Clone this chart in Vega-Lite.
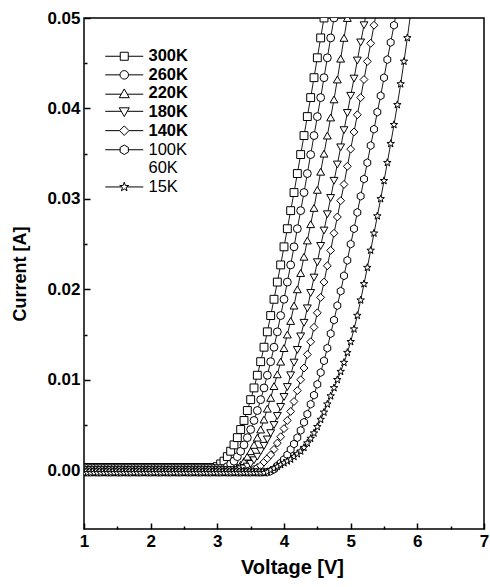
{
"$schema": "https://vega.github.io/schema/vega-lite/v6.json",
"width": 400, "height": 511,
"autosize": {"type": "none"},
"padding": {"left": 84, "top": 18, "right": 6, "bottom": 58},
"background": "white",
"config": {
 "view": {"stroke": "black", "strokeWidth": 1.5},
 "axis": {"domain": false, "grid": false, "labelFont": "Liberation Sans", "labelFontWeight": "bold", "labelFontSize": 17, "labelColor": "black", "titleFont": "Liberation Sans", "titleFontWeight": "bold", "titleColor": "black", "tickColor": "black", "tickWidth": 1.5},
 "legend": {"labelFont": "Liberation Sans", "labelFontSize": 16.5, "labelColor": "black", "symbolStrokeColor": "black", "symbolStrokeWidth": 1, "padding": 0, "rowPadding": 1.6, "labelOffset": 16, "symbolSize": 100}
},
"data": {"values": [
{"t":"300K","v":1.00,"i":0.0003},{"t":"300K","v":1.05,"i":0.0003},{"t":"300K","v":1.10,"i":0.0003},{"t":"300K","v":1.15,"i":0.0003},{"t":"300K","v":1.20,"i":0.0003},{"t":"300K","v":1.25,"i":0.0003},{"t":"300K","v":1.30,"i":0.0003},{"t":"300K","v":1.35,"i":0.0003},{"t":"300K","v":1.40,"i":0.0003},{"t":"300K","v":1.45,"i":0.0003},{"t":"300K","v":1.50,"i":0.0003},{"t":"300K","v":1.55,"i":0.0003},{"t":"300K","v":1.60,"i":0.0003},{"t":"300K","v":1.65,"i":0.0003},{"t":"300K","v":1.70,"i":0.0003},{"t":"300K","v":1.75,"i":0.0003},{"t":"300K","v":1.80,"i":0.0003},{"t":"300K","v":1.85,"i":0.0003},{"t":"300K","v":1.90,"i":0.0003},{"t":"300K","v":1.95,"i":0.0003},{"t":"300K","v":2.00,"i":0.0003},{"t":"300K","v":2.05,"i":0.0003},{"t":"300K","v":2.10,"i":0.0003},{"t":"300K","v":2.15,"i":0.0003},{"t":"300K","v":2.20,"i":0.0003},{"t":"300K","v":2.25,"i":0.0003},{"t":"300K","v":2.30,"i":0.0003},{"t":"300K","v":2.35,"i":0.0003},{"t":"300K","v":2.40,"i":0.0003},{"t":"300K","v":2.45,"i":0.0003},{"t":"300K","v":2.50,"i":0.0003},{"t":"300K","v":2.55,"i":0.0003},{"t":"300K","v":2.60,"i":0.0003},{"t":"300K","v":2.65,"i":0.0003},{"t":"300K","v":2.70,"i":0.0003},{"t":"300K","v":2.75,"i":0.0003},{"t":"300K","v":2.80,"i":0.0003},{"t":"300K","v":2.85,"i":0.0003},{"t":"300K","v":2.90,"i":0.0003},{"t":"300K","v":2.95,"i":0.0003},
{"t":"300K","v":3.00,"i":0.0004},{"t":"300K","v":3.05,"i":0.0007},{"t":"300K","v":3.10,"i":0.0010},{"t":"300K","v":3.15,"i":0.0015},{"t":"300K","v":3.20,"i":0.0021},{"t":"300K","v":3.25,"i":0.0028},{"t":"300K","v":3.30,"i":0.0036},{"t":"300K","v":3.35,"i":0.0045},{"t":"300K","v":3.40,"i":0.0055},{"t":"300K","v":3.45,"i":0.0066},{"t":"300K","v":3.50,"i":0.0078},{"t":"300K","v":3.55,"i":0.0091},{"t":"300K","v":3.60,"i":0.0105},{"t":"300K","v":3.65,"i":0.0120},{"t":"300K","v":3.70,"i":0.0136},{"t":"300K","v":3.75,"i":0.0153},{"t":"300K","v":3.80,"i":0.0171},{"t":"300K","v":3.85,"i":0.0189},{"t":"300K","v":3.90,"i":0.0208},{"t":"300K","v":3.95,"i":0.0227},{"t":"300K","v":4.00,"i":0.0247},{"t":"300K","v":4.05,"i":0.0267},{"t":"300K","v":4.10,"i":0.0287},{"t":"300K","v":4.15,"i":0.0307},{"t":"300K","v":4.20,"i":0.0328},{"t":"300K","v":4.25,"i":0.0349},{"t":"300K","v":4.30,"i":0.0370},{"t":"300K","v":4.35,"i":0.0391},{"t":"300K","v":4.40,"i":0.0412},{"t":"300K","v":4.45,"i":0.0434},{"t":"300K","v":4.50,"i":0.0456},{"t":"300K","v":4.55,"i":0.0478},{"t":"300K","v":4.60,"i":0.0500},{"t":"300K","v":4.65,"i":0.0522},
{"t":"260K","v":1.00,"i":0.0002},{"t":"260K","v":1.05,"i":0.0002},{"t":"260K","v":1.10,"i":0.0002},{"t":"260K","v":1.15,"i":0.0002},{"t":"260K","v":1.20,"i":0.0002},{"t":"260K","v":1.25,"i":0.0002},{"t":"260K","v":1.30,"i":0.0002},{"t":"260K","v":1.35,"i":0.0002},{"t":"260K","v":1.40,"i":0.0002},{"t":"260K","v":1.45,"i":0.0002},{"t":"260K","v":1.50,"i":0.0002},{"t":"260K","v":1.55,"i":0.0002},{"t":"260K","v":1.60,"i":0.0002},{"t":"260K","v":1.65,"i":0.0002},{"t":"260K","v":1.70,"i":0.0002},{"t":"260K","v":1.75,"i":0.0002},{"t":"260K","v":1.80,"i":0.0002},{"t":"260K","v":1.85,"i":0.0002},{"t":"260K","v":1.90,"i":0.0002},{"t":"260K","v":1.95,"i":0.0002},{"t":"260K","v":2.00,"i":0.0002},{"t":"260K","v":2.05,"i":0.0002},{"t":"260K","v":2.10,"i":0.0002},{"t":"260K","v":2.15,"i":0.0002},{"t":"260K","v":2.20,"i":0.0002},{"t":"260K","v":2.25,"i":0.0002},{"t":"260K","v":2.30,"i":0.0002},{"t":"260K","v":2.35,"i":0.0002},{"t":"260K","v":2.40,"i":0.0002},{"t":"260K","v":2.45,"i":0.0002},{"t":"260K","v":2.50,"i":0.0002},{"t":"260K","v":2.55,"i":0.0002},{"t":"260K","v":2.60,"i":0.0002},{"t":"260K","v":2.65,"i":0.0002},{"t":"260K","v":2.70,"i":0.0002},{"t":"260K","v":2.75,"i":0.0002},{"t":"260K","v":2.80,"i":0.0002},{"t":"260K","v":2.85,"i":0.0002},{"t":"260K","v":2.90,"i":0.0002},{"t":"260K","v":2.95,"i":0.0002},{"t":"260K","v":3.00,"i":0.0002},{"t":"260K","v":3.05,"i":0.0002},{"t":"260K","v":3.10,"i":0.0002},
{"t":"260K","v":3.15,"i":0.0004},{"t":"260K","v":3.20,"i":0.0007},{"t":"260K","v":3.25,"i":0.0010},{"t":"260K","v":3.30,"i":0.0015},{"t":"260K","v":3.35,"i":0.0021},{"t":"260K","v":3.40,"i":0.0028},{"t":"260K","v":3.45,"i":0.0036},{"t":"260K","v":3.50,"i":0.0045},{"t":"260K","v":3.55,"i":0.0055},{"t":"260K","v":3.60,"i":0.0066},{"t":"260K","v":3.65,"i":0.0078},{"t":"260K","v":3.70,"i":0.0091},{"t":"260K","v":3.75,"i":0.0105},{"t":"260K","v":3.80,"i":0.0120},{"t":"260K","v":3.85,"i":0.0136},{"t":"260K","v":3.90,"i":0.0153},{"t":"260K","v":3.95,"i":0.0171},{"t":"260K","v":4.00,"i":0.0189},{"t":"260K","v":4.05,"i":0.0208},{"t":"260K","v":4.10,"i":0.0227},{"t":"260K","v":4.15,"i":0.0247},{"t":"260K","v":4.20,"i":0.0267},{"t":"260K","v":4.25,"i":0.0287},{"t":"260K","v":4.30,"i":0.0307},{"t":"260K","v":4.35,"i":0.0328},{"t":"260K","v":4.40,"i":0.0349},{"t":"260K","v":4.45,"i":0.0370},{"t":"260K","v":4.50,"i":0.0391},{"t":"260K","v":4.55,"i":0.0412},{"t":"260K","v":4.60,"i":0.0434},{"t":"260K","v":4.65,"i":0.0456},{"t":"260K","v":4.70,"i":0.0478},{"t":"260K","v":4.75,"i":0.0500},{"t":"260K","v":4.80,"i":0.0522},
{"t":"220K","v":1.00,"i":0.0001},{"t":"220K","v":1.05,"i":0.0001},{"t":"220K","v":1.10,"i":0.0001},{"t":"220K","v":1.15,"i":0.0001},{"t":"220K","v":1.20,"i":0.0001},{"t":"220K","v":1.25,"i":0.0001},{"t":"220K","v":1.30,"i":0.0001},{"t":"220K","v":1.35,"i":0.0001},{"t":"220K","v":1.40,"i":0.0001},{"t":"220K","v":1.45,"i":0.0001},{"t":"220K","v":1.50,"i":0.0001},{"t":"220K","v":1.55,"i":0.0001},{"t":"220K","v":1.60,"i":0.0001},{"t":"220K","v":1.65,"i":0.0001},{"t":"220K","v":1.70,"i":0.0001},{"t":"220K","v":1.75,"i":0.0001},{"t":"220K","v":1.80,"i":0.0001},{"t":"220K","v":1.85,"i":0.0001},{"t":"220K","v":1.90,"i":0.0001},{"t":"220K","v":1.95,"i":0.0001},{"t":"220K","v":2.00,"i":0.0001},{"t":"220K","v":2.05,"i":0.0001},{"t":"220K","v":2.10,"i":0.0001},{"t":"220K","v":2.15,"i":0.0001},{"t":"220K","v":2.20,"i":0.0001},{"t":"220K","v":2.25,"i":0.0001},{"t":"220K","v":2.30,"i":0.0001},{"t":"220K","v":2.35,"i":0.0001},{"t":"220K","v":2.40,"i":0.0001},{"t":"220K","v":2.45,"i":0.0001},{"t":"220K","v":2.50,"i":0.0001},{"t":"220K","v":2.55,"i":0.0001},{"t":"220K","v":2.60,"i":0.0001},{"t":"220K","v":2.65,"i":0.0001},{"t":"220K","v":2.70,"i":0.0001},{"t":"220K","v":2.75,"i":0.0001},{"t":"220K","v":2.80,"i":0.0001},{"t":"220K","v":2.85,"i":0.0001},{"t":"220K","v":2.90,"i":0.0001},{"t":"220K","v":2.95,"i":0.0001},{"t":"220K","v":3.00,"i":0.0001},{"t":"220K","v":3.05,"i":0.0001},{"t":"220K","v":3.10,"i":0.0001},{"t":"220K","v":3.15,"i":0.0001},{"t":"220K","v":3.20,"i":0.0001},{"t":"220K","v":3.25,"i":0.0001},
{"t":"220K","v":3.30,"i":0.0003},{"t":"220K","v":3.35,"i":0.0006},{"t":"220K","v":3.40,"i":0.0010},{"t":"220K","v":3.45,"i":0.0015},{"t":"220K","v":3.50,"i":0.0021},{"t":"220K","v":3.55,"i":0.0028},{"t":"220K","v":3.60,"i":0.0036},{"t":"220K","v":3.65,"i":0.0045},{"t":"220K","v":3.70,"i":0.0056},{"t":"220K","v":3.75,"i":0.0068},{"t":"220K","v":3.80,"i":0.0080},{"t":"220K","v":3.85,"i":0.0093},{"t":"220K","v":3.90,"i":0.0106},{"t":"220K","v":3.95,"i":0.0120},{"t":"220K","v":4.00,"i":0.0135},{"t":"220K","v":4.05,"i":0.0150},{"t":"220K","v":4.10,"i":0.0165},{"t":"220K","v":4.15,"i":0.0182},{"t":"220K","v":4.20,"i":0.0200},{"t":"220K","v":4.25,"i":0.0218},{"t":"220K","v":4.30,"i":0.0236},{"t":"220K","v":4.35,"i":0.0254},{"t":"220K","v":4.40,"i":0.0272},{"t":"220K","v":4.45,"i":0.0290},{"t":"220K","v":4.50,"i":0.0310},{"t":"220K","v":4.55,"i":0.0330},{"t":"220K","v":4.60,"i":0.0350},{"t":"220K","v":4.65,"i":0.0370},{"t":"220K","v":4.70,"i":0.0390},{"t":"220K","v":4.75,"i":0.0410},{"t":"220K","v":4.80,"i":0.0432},{"t":"220K","v":4.85,"i":0.0455},{"t":"220K","v":4.90,"i":0.0478},{"t":"220K","v":4.95,"i":0.0500},{"t":"220K","v":5.00,"i":0.0522},
{"t":"180K","v":1.00,"i":0},{"t":"180K","v":1.05,"i":0},{"t":"180K","v":1.10,"i":0},{"t":"180K","v":1.15,"i":0},{"t":"180K","v":1.20,"i":0},{"t":"180K","v":1.25,"i":0},{"t":"180K","v":1.30,"i":0},{"t":"180K","v":1.35,"i":0},{"t":"180K","v":1.40,"i":0},{"t":"180K","v":1.45,"i":0},{"t":"180K","v":1.50,"i":0},{"t":"180K","v":1.55,"i":0},{"t":"180K","v":1.60,"i":0},{"t":"180K","v":1.65,"i":0},{"t":"180K","v":1.70,"i":0},{"t":"180K","v":1.75,"i":0},{"t":"180K","v":1.80,"i":0},{"t":"180K","v":1.85,"i":0},{"t":"180K","v":1.90,"i":0},{"t":"180K","v":1.95,"i":0},{"t":"180K","v":2.00,"i":0},{"t":"180K","v":2.05,"i":0},{"t":"180K","v":2.10,"i":0},{"t":"180K","v":2.15,"i":0},{"t":"180K","v":2.20,"i":0},{"t":"180K","v":2.25,"i":0},{"t":"180K","v":2.30,"i":0},{"t":"180K","v":2.35,"i":0},{"t":"180K","v":2.40,"i":0},{"t":"180K","v":2.45,"i":0},{"t":"180K","v":2.50,"i":0},{"t":"180K","v":2.55,"i":0},{"t":"180K","v":2.60,"i":0},{"t":"180K","v":2.65,"i":0},{"t":"180K","v":2.70,"i":0},{"t":"180K","v":2.75,"i":0},{"t":"180K","v":2.80,"i":0},{"t":"180K","v":2.85,"i":0},{"t":"180K","v":2.90,"i":0},{"t":"180K","v":2.95,"i":0},{"t":"180K","v":3.00,"i":0},{"t":"180K","v":3.05,"i":0},{"t":"180K","v":3.10,"i":0},{"t":"180K","v":3.15,"i":0},{"t":"180K","v":3.20,"i":0},{"t":"180K","v":3.25,"i":0},{"t":"180K","v":3.30,"i":0},
{"t":"180K","v":3.35,"i":0.0001},{"t":"180K","v":3.40,"i":0.0002},{"t":"180K","v":3.45,"i":0.0004},{"t":"180K","v":3.50,"i":0.0007},{"t":"180K","v":3.55,"i":0.0011},{"t":"180K","v":3.60,"i":0.0015},{"t":"180K","v":3.65,"i":0.0021},{"t":"180K","v":3.70,"i":0.0027},{"t":"180K","v":3.75,"i":0.0034},{"t":"180K","v":3.80,"i":0.0041},{"t":"180K","v":3.85,"i":0.0050},{"t":"180K","v":3.90,"i":0.0060},{"t":"180K","v":3.95,"i":0.0070},{"t":"180K","v":4.00,"i":0.0081},{"t":"180K","v":4.05,"i":0.0092},{"t":"180K","v":4.10,"i":0.0105},{"t":"180K","v":4.15,"i":0.0119},{"t":"180K","v":4.20,"i":0.0133},{"t":"180K","v":4.25,"i":0.0148},{"t":"180K","v":4.30,"i":0.0163},{"t":"180K","v":4.35,"i":0.0179},{"t":"180K","v":4.40,"i":0.0196},{"t":"180K","v":4.45,"i":0.0213},{"t":"180K","v":4.50,"i":0.0230},{"t":"180K","v":4.55,"i":0.0248},{"t":"180K","v":4.60,"i":0.0265},{"t":"180K","v":4.65,"i":0.0283},{"t":"180K","v":4.70,"i":0.0301},{"t":"180K","v":4.75,"i":0.0320},{"t":"180K","v":4.80,"i":0.0338},{"t":"180K","v":4.85,"i":0.0357},{"t":"180K","v":4.90,"i":0.0376},{"t":"180K","v":4.95,"i":0.0395},{"t":"180K","v":5.00,"i":0.0414},{"t":"180K","v":5.05,"i":0.0433},{"t":"180K","v":5.10,"i":0.0453},{"t":"180K","v":5.15,"i":0.0473},{"t":"180K","v":5.20,"i":0.0492},{"t":"180K","v":5.25,"i":0.0512},
{"t":"140K","v":1.00,"i":-0.0001},{"t":"140K","v":1.05,"i":-0.0001},{"t":"140K","v":1.10,"i":-0.0001},{"t":"140K","v":1.15,"i":-0.0001},{"t":"140K","v":1.20,"i":-0.0001},{"t":"140K","v":1.25,"i":-0.0001},{"t":"140K","v":1.30,"i":-0.0001},{"t":"140K","v":1.35,"i":-0.0001},{"t":"140K","v":1.40,"i":-0.0001},{"t":"140K","v":1.45,"i":-0.0001},{"t":"140K","v":1.50,"i":-0.0001},{"t":"140K","v":1.55,"i":-0.0001},{"t":"140K","v":1.60,"i":-0.0001},{"t":"140K","v":1.65,"i":-0.0001},{"t":"140K","v":1.70,"i":-0.0001},{"t":"140K","v":1.75,"i":-0.0001},{"t":"140K","v":1.80,"i":-0.0001},{"t":"140K","v":1.85,"i":-0.0001},{"t":"140K","v":1.90,"i":-0.0001},{"t":"140K","v":1.95,"i":-0.0001},{"t":"140K","v":2.00,"i":-0.0001},{"t":"140K","v":2.05,"i":-0.0001},{"t":"140K","v":2.10,"i":-0.0001},{"t":"140K","v":2.15,"i":-0.0001},{"t":"140K","v":2.20,"i":-0.0001},{"t":"140K","v":2.25,"i":-0.0001},{"t":"140K","v":2.30,"i":-0.0001},{"t":"140K","v":2.35,"i":-0.0001},{"t":"140K","v":2.40,"i":-0.0001},{"t":"140K","v":2.45,"i":-0.0001},{"t":"140K","v":2.50,"i":-0.0001},{"t":"140K","v":2.55,"i":-0.0001},{"t":"140K","v":2.60,"i":-0.0001},{"t":"140K","v":2.65,"i":-0.0001},{"t":"140K","v":2.70,"i":-0.0001},{"t":"140K","v":2.75,"i":-0.0001},{"t":"140K","v":2.80,"i":-0.0001},{"t":"140K","v":2.85,"i":-0.0001},{"t":"140K","v":2.90,"i":-0.0001},{"t":"140K","v":2.95,"i":-0.0001},{"t":"140K","v":3.00,"i":-0.0001},{"t":"140K","v":3.05,"i":-0.0001},{"t":"140K","v":3.10,"i":-0.0001},{"t":"140K","v":3.15,"i":-0.0001},{"t":"140K","v":3.20,"i":-0.0001},{"t":"140K","v":3.25,"i":-0.0001},{"t":"140K","v":3.30,"i":-0.0001},{"t":"140K","v":3.35,"i":-0.0001},{"t":"140K","v":3.40,"i":-0.0001},{"t":"140K","v":3.45,"i":-0.0001},{"t":"140K","v":3.50,"i":-0.0001},
{"t":"140K","v":3.55,"i":0.0001},{"t":"140K","v":3.60,"i":0.0003},{"t":"140K","v":3.65,"i":0.0005},{"t":"140K","v":3.70,"i":0.0009},{"t":"140K","v":3.75,"i":0.0013},{"t":"140K","v":3.80,"i":0.0017},{"t":"140K","v":3.85,"i":0.0023},{"t":"140K","v":3.90,"i":0.0030},{"t":"140K","v":3.95,"i":0.0037},{"t":"140K","v":4.00,"i":0.0046},{"t":"140K","v":4.05,"i":0.0055},{"t":"140K","v":4.10,"i":0.0065},{"t":"140K","v":4.15,"i":0.0076},{"t":"140K","v":4.20,"i":0.0088},{"t":"140K","v":4.25,"i":0.0100},{"t":"140K","v":4.30,"i":0.0113},{"t":"140K","v":4.35,"i":0.0128},{"t":"140K","v":4.40,"i":0.0142},{"t":"140K","v":4.45,"i":0.0158},{"t":"140K","v":4.50,"i":0.0174},{"t":"140K","v":4.55,"i":0.0191},{"t":"140K","v":4.60,"i":0.0208},{"t":"140K","v":4.65,"i":0.0226},{"t":"140K","v":4.70,"i":0.0243},{"t":"140K","v":4.75,"i":0.0262},{"t":"140K","v":4.80,"i":0.0280},{"t":"140K","v":4.85,"i":0.0298},{"t":"140K","v":4.90,"i":0.0316},{"t":"140K","v":4.95,"i":0.0336},{"t":"140K","v":5.00,"i":0.0355},{"t":"140K","v":5.05,"i":0.0374},{"t":"140K","v":5.10,"i":0.0393},{"t":"140K","v":5.15,"i":0.0412},{"t":"140K","v":5.20,"i":0.0432},{"t":"140K","v":5.25,"i":0.0452},{"t":"140K","v":5.30,"i":0.0472},{"t":"140K","v":5.35,"i":0.0492},{"t":"140K","v":5.40,"i":0.0512},
{"t":"100K","v":1.00,"i":-0.0002},{"t":"100K","v":1.05,"i":-0.0002},{"t":"100K","v":1.10,"i":-0.0002},{"t":"100K","v":1.15,"i":-0.0002},{"t":"100K","v":1.20,"i":-0.0002},{"t":"100K","v":1.25,"i":-0.0002},{"t":"100K","v":1.30,"i":-0.0002},{"t":"100K","v":1.35,"i":-0.0002},{"t":"100K","v":1.40,"i":-0.0002},{"t":"100K","v":1.45,"i":-0.0002},{"t":"100K","v":1.50,"i":-0.0002},{"t":"100K","v":1.55,"i":-0.0002},{"t":"100K","v":1.60,"i":-0.0002},{"t":"100K","v":1.65,"i":-0.0002},{"t":"100K","v":1.70,"i":-0.0002},{"t":"100K","v":1.75,"i":-0.0002},{"t":"100K","v":1.80,"i":-0.0002},{"t":"100K","v":1.85,"i":-0.0002},{"t":"100K","v":1.90,"i":-0.0002},{"t":"100K","v":1.95,"i":-0.0002},{"t":"100K","v":2.00,"i":-0.0002},{"t":"100K","v":2.05,"i":-0.0002},{"t":"100K","v":2.10,"i":-0.0002},{"t":"100K","v":2.15,"i":-0.0002},{"t":"100K","v":2.20,"i":-0.0002},{"t":"100K","v":2.25,"i":-0.0002},{"t":"100K","v":2.30,"i":-0.0002},{"t":"100K","v":2.35,"i":-0.0002},{"t":"100K","v":2.40,"i":-0.0002},{"t":"100K","v":2.45,"i":-0.0002},{"t":"100K","v":2.50,"i":-0.0002},{"t":"100K","v":2.55,"i":-0.0002},{"t":"100K","v":2.60,"i":-0.0002},{"t":"100K","v":2.65,"i":-0.0002},{"t":"100K","v":2.70,"i":-0.0002},{"t":"100K","v":2.75,"i":-0.0002},{"t":"100K","v":2.80,"i":-0.0002},{"t":"100K","v":2.85,"i":-0.0002},{"t":"100K","v":2.90,"i":-0.0002},{"t":"100K","v":2.95,"i":-0.0002},{"t":"100K","v":3.00,"i":-0.0002},{"t":"100K","v":3.05,"i":-0.0002},{"t":"100K","v":3.10,"i":-0.0002},{"t":"100K","v":3.15,"i":-0.0002},{"t":"100K","v":3.20,"i":-0.0002},{"t":"100K","v":3.25,"i":-0.0002},{"t":"100K","v":3.30,"i":-0.0002},{"t":"100K","v":3.35,"i":-0.0002},{"t":"100K","v":3.40,"i":-0.0002},{"t":"100K","v":3.45,"i":-0.0002},{"t":"100K","v":3.50,"i":-0.0002},{"t":"100K","v":3.55,"i":-0.0002},{"t":"100K","v":3.60,"i":-0.0002},{"t":"100K","v":3.65,"i":-0.0002},{"t":"100K","v":3.70,"i":-0.0002},{"t":"100K","v":3.75,"i":-0.0002},
{"t":"100K","v":3.80,"i":-0.0001},{"t":"100K","v":3.85,"i":0.0001},{"t":"100K","v":3.90,"i":0.0005},{"t":"100K","v":3.95,"i":0.0008},{"t":"100K","v":4.00,"i":0.0012},{"t":"100K","v":4.05,"i":0.0017},{"t":"100K","v":4.10,"i":0.0023},{"t":"100K","v":4.15,"i":0.0029},{"t":"100K","v":4.20,"i":0.0036},{"t":"100K","v":4.25,"i":0.0044},{"t":"100K","v":4.30,"i":0.0053},{"t":"100K","v":4.35,"i":0.0062},{"t":"100K","v":4.40,"i":0.0073},{"t":"100K","v":4.45,"i":0.0083},{"t":"100K","v":4.50,"i":0.0095},{"t":"100K","v":4.55,"i":0.0108},{"t":"100K","v":4.60,"i":0.0121},{"t":"100K","v":4.65,"i":0.0135},{"t":"100K","v":4.70,"i":0.0151},{"t":"100K","v":4.75,"i":0.0166},{"t":"100K","v":4.80,"i":0.0182},{"t":"100K","v":4.85,"i":0.0198},{"t":"100K","v":4.90,"i":0.0215},{"t":"100K","v":4.95,"i":0.0232},{"t":"100K","v":5.00,"i":0.0250},{"t":"100K","v":5.05,"i":0.0267},{"t":"100K","v":5.10,"i":0.0285},{"t":"100K","v":5.15,"i":0.0303},{"t":"100K","v":5.20,"i":0.0322},{"t":"100K","v":5.25,"i":0.0340},{"t":"100K","v":5.30,"i":0.0359},{"t":"100K","v":5.35,"i":0.0377},{"t":"100K","v":5.40,"i":0.0396},{"t":"100K","v":5.45,"i":0.0414},{"t":"100K","v":5.50,"i":0.0434},{"t":"100K","v":5.55,"i":0.0454},{"t":"100K","v":5.60,"i":0.0473},{"t":"100K","v":5.65,"i":0.0492},{"t":"100K","v":5.70,"i":0.0512},
{"t":"15K","v":1.00,"i":-0.0003},{"t":"15K","v":1.05,"i":-0.0003},{"t":"15K","v":1.10,"i":-0.0003},{"t":"15K","v":1.15,"i":-0.0003},{"t":"15K","v":1.20,"i":-0.0003},{"t":"15K","v":1.25,"i":-0.0003},{"t":"15K","v":1.30,"i":-0.0003},{"t":"15K","v":1.35,"i":-0.0003},{"t":"15K","v":1.40,"i":-0.0003},{"t":"15K","v":1.45,"i":-0.0003},{"t":"15K","v":1.50,"i":-0.0003},{"t":"15K","v":1.55,"i":-0.0003},{"t":"15K","v":1.60,"i":-0.0003},{"t":"15K","v":1.65,"i":-0.0003},{"t":"15K","v":1.70,"i":-0.0003},{"t":"15K","v":1.75,"i":-0.0003},{"t":"15K","v":1.80,"i":-0.0003},{"t":"15K","v":1.85,"i":-0.0003},{"t":"15K","v":1.90,"i":-0.0003},{"t":"15K","v":1.95,"i":-0.0003},{"t":"15K","v":2.00,"i":-0.0003},{"t":"15K","v":2.05,"i":-0.0003},{"t":"15K","v":2.10,"i":-0.0003},{"t":"15K","v":2.15,"i":-0.0003},{"t":"15K","v":2.20,"i":-0.0003},{"t":"15K","v":2.25,"i":-0.0003},{"t":"15K","v":2.30,"i":-0.0003},{"t":"15K","v":2.35,"i":-0.0003},{"t":"15K","v":2.40,"i":-0.0003},{"t":"15K","v":2.45,"i":-0.0003},{"t":"15K","v":2.50,"i":-0.0003},{"t":"15K","v":2.55,"i":-0.0003},{"t":"15K","v":2.60,"i":-0.0003},{"t":"15K","v":2.65,"i":-0.0003},{"t":"15K","v":2.70,"i":-0.0003},{"t":"15K","v":2.75,"i":-0.0003},{"t":"15K","v":2.80,"i":-0.0003},{"t":"15K","v":2.85,"i":-0.0003},{"t":"15K","v":2.90,"i":-0.0003},{"t":"15K","v":2.95,"i":-0.0003},{"t":"15K","v":3.00,"i":-0.0003},{"t":"15K","v":3.05,"i":-0.0003},{"t":"15K","v":3.10,"i":-0.0003},{"t":"15K","v":3.15,"i":-0.0003},{"t":"15K","v":3.20,"i":-0.0003},{"t":"15K","v":3.25,"i":-0.0003},{"t":"15K","v":3.30,"i":-0.0003},{"t":"15K","v":3.35,"i":-0.0003},{"t":"15K","v":3.40,"i":-0.0003},{"t":"15K","v":3.45,"i":-0.0003},{"t":"15K","v":3.50,"i":-0.0003},{"t":"15K","v":3.55,"i":-0.0003},{"t":"15K","v":3.60,"i":-0.0003},{"t":"15K","v":3.65,"i":-0.0003},{"t":"15K","v":3.70,"i":-0.0003},
{"t":"15K","v":3.75,"i":-0.0002},{"t":"15K","v":3.80,"i":0.0000},{"t":"15K","v":3.85,"i":0.0002},{"t":"15K","v":3.90,"i":0.0004},{"t":"15K","v":3.95,"i":0.0006},{"t":"15K","v":4.00,"i":0.0008},{"t":"15K","v":4.05,"i":0.0010},{"t":"15K","v":4.10,"i":0.0012},{"t":"15K","v":4.15,"i":0.0015},{"t":"15K","v":4.20,"i":0.0018},{"t":"15K","v":4.25,"i":0.0021},{"t":"15K","v":4.30,"i":0.0025},{"t":"15K","v":4.35,"i":0.0030},{"t":"15K","v":4.40,"i":0.0035},{"t":"15K","v":4.45,"i":0.0041},{"t":"15K","v":4.50,"i":0.0048},{"t":"15K","v":4.55,"i":0.0056},{"t":"15K","v":4.60,"i":0.0064},{"t":"15K","v":4.65,"i":0.0073},{"t":"15K","v":4.70,"i":0.0082},{"t":"15K","v":4.75,"i":0.0091},{"t":"15K","v":4.80,"i":0.0100},{"t":"15K","v":4.85,"i":0.0109},{"t":"15K","v":4.90,"i":0.0119},{"t":"15K","v":4.95,"i":0.0130},{"t":"15K","v":5.00,"i":0.0142},{"t":"15K","v":5.05,"i":0.0156},{"t":"15K","v":5.10,"i":0.0171},{"t":"15K","v":5.15,"i":0.0188},{"t":"15K","v":5.20,"i":0.0206},{"t":"15K","v":5.25,"i":0.0224},{"t":"15K","v":5.30,"i":0.0243},{"t":"15K","v":5.35,"i":0.0262},{"t":"15K","v":5.40,"i":0.0281},{"t":"15K","v":5.45,"i":0.0300},{"t":"15K","v":5.50,"i":0.0320},{"t":"15K","v":5.55,"i":0.0340},{"t":"15K","v":5.60,"i":0.0361},{"t":"15K","v":5.65,"i":0.0382},{"t":"15K","v":5.70,"i":0.0404},{"t":"15K","v":5.75,"i":0.0427},{"t":"15K","v":5.80,"i":0.0452},{"t":"15K","v":5.85,"i":0.0478},{"t":"15K","v":5.90,"i":0.0505},{"t":"15K","v":5.95,"i":0.0532}
]},
"encoding": {
 "x": {"field": "v", "type": "quantitative", "scale": {"domain": [1, 7], "nice": false, "zero": false},
  "axis": {"title": "Voltage [V]", "titleFontSize": 20, "titleX": 208, "values": [1,1.5,2,2.5,3,3.5,4,4.5,5,5.5,6,6.5,7], "format": ".0f", "labelExpr": "datum.value % 1 === 0 ? datum.label : ''", "tickSize": {"condition": {"test": "datum.value % 1 === 0", "value": -6}, "value": -3}, "labelPadding": 10, "titlePadding": 8, "labelFlush": false}},
 "y": {"field": "i", "type": "quantitative", "scale": {"domain": [-0.0065, 0.05], "nice": false, "zero": false},
  "axis": {"title": "Current [A]", "titleFontSize": 18, "values": [0,0.005,0.01,0.015,0.02,0.025,0.03,0.035,0.04,0.045,0.05], "format": ".2f", "labelExpr": "abs(round(datum.value*200)) % 2 === 0 ? datum.label : ''", "tickSize": {"condition": {"test": "abs(round(datum.value*200)) % 2 === 0", "value": -6}, "value": -3}, "labelPadding": 10, "titlePadding": 17, "labelFlush": false}}
},
"layer": [
 {"mark": {"type": "line", "color": "black", "strokeWidth": 0.9, "clip": true},
  "encoding": {"detail": {"field": "t"}}},
 {"mark": {"type": "point", "filled": false, "fill": "white", "fillOpacity": 1, "stroke": "black", "strokeWidth": 1, "size": 62, "opacity": 1, "clip": true},
  "encoding": {"shape": {"field": "t", "type": "nominal", "legend": null,
   "scale": {"domain": ["300K","260K","220K","180K","140K","100K","60K","15K"],
    "range": ["square","circle","triangle-up","triangle-down","diamond","M0,-1L0.866,-0.5L0.866,0.5L0,1L-0.866,0.5L-0.866,-0.5Z","M0,0","M0,-1L0.235,-0.324L0.951,-0.309L0.38,0.124L0.588,0.809L0,0.4L-0.588,0.809L-0.38,0.124L-0.951,-0.309L-0.235,-0.324Z"]}}}
 },
 {"transform": [{"filter": "datum.v > 100"}],
  "mark": {"type": "point", "filled": false, "stroke": "black", "strokeWidth": 1, "size": 100, "opacity": 1},
  "encoding": {"shape": {"field": "t", "type": "nominal",
   "scale": {"domain": ["300K","260K","220K","180K","140K"],
    "range": ["M-3.8,0H-0.8M0.8,0H3.8M-0.8,-0.8H0.8V0.8H-0.8Z","M-3.8,0H-0.85M0.85,0H3.8M-0.85,0A0.85,0.85,0,1,0,0.85,0A0.85,0.85,0,1,0,-0.85,0Z","M-3.8,0.15H-0.6M0.6,0.15H3.8M0,-0.9L1,0.85H-1Z","M-3.8,-0.15H-0.6M0.6,-0.15H3.8M0,0.9L1,-0.85H-1Z","M-3.8,0H-0.95M0.95,0H3.8M0,-0.95L0.95,0L0,0.95L-0.95,0Z"]},
   "legend": {"title": null, "orient": "none", "legendX": 32, "legendY": 30, "labelFontWeight": "bold"}}}
 },
 {"transform": [{"filter": "datum.v > 100"}],
  "mark": {"type": "point", "filled": false, "stroke": "black", "strokeWidth": 1, "size": 100, "opacity": 1},
  "encoding": {"shape": {"field": "t", "type": "nominal",
   "scale": {"domain": ["100K","60K","15K"],
    "range": ["M-3.8,0H-0.82M0.82,0H3.8M0,-0.95L0.82,-0.47L0.82,0.47L0,0.95L-0.82,0.47L-0.82,-0.47Z","M0,0","M-3.8,0H-0.52M0.52,0H3.8M0,-0.95L0.22,-0.3L0.9,-0.29L0.36,0.12L0.56,0.77L0,0.38L-0.56,0.77L-0.36,0.12L-0.9,-0.29L-0.22,-0.3Z"]},
   "legend": {"title": null, "orient": "none", "legendX": 32, "legendY": 123.5, "labelFontWeight": "normal"}}}
 }
],
"resolve": {"scale": {"shape": "independent"}, "legend": {"shape": "independent"}}
}
